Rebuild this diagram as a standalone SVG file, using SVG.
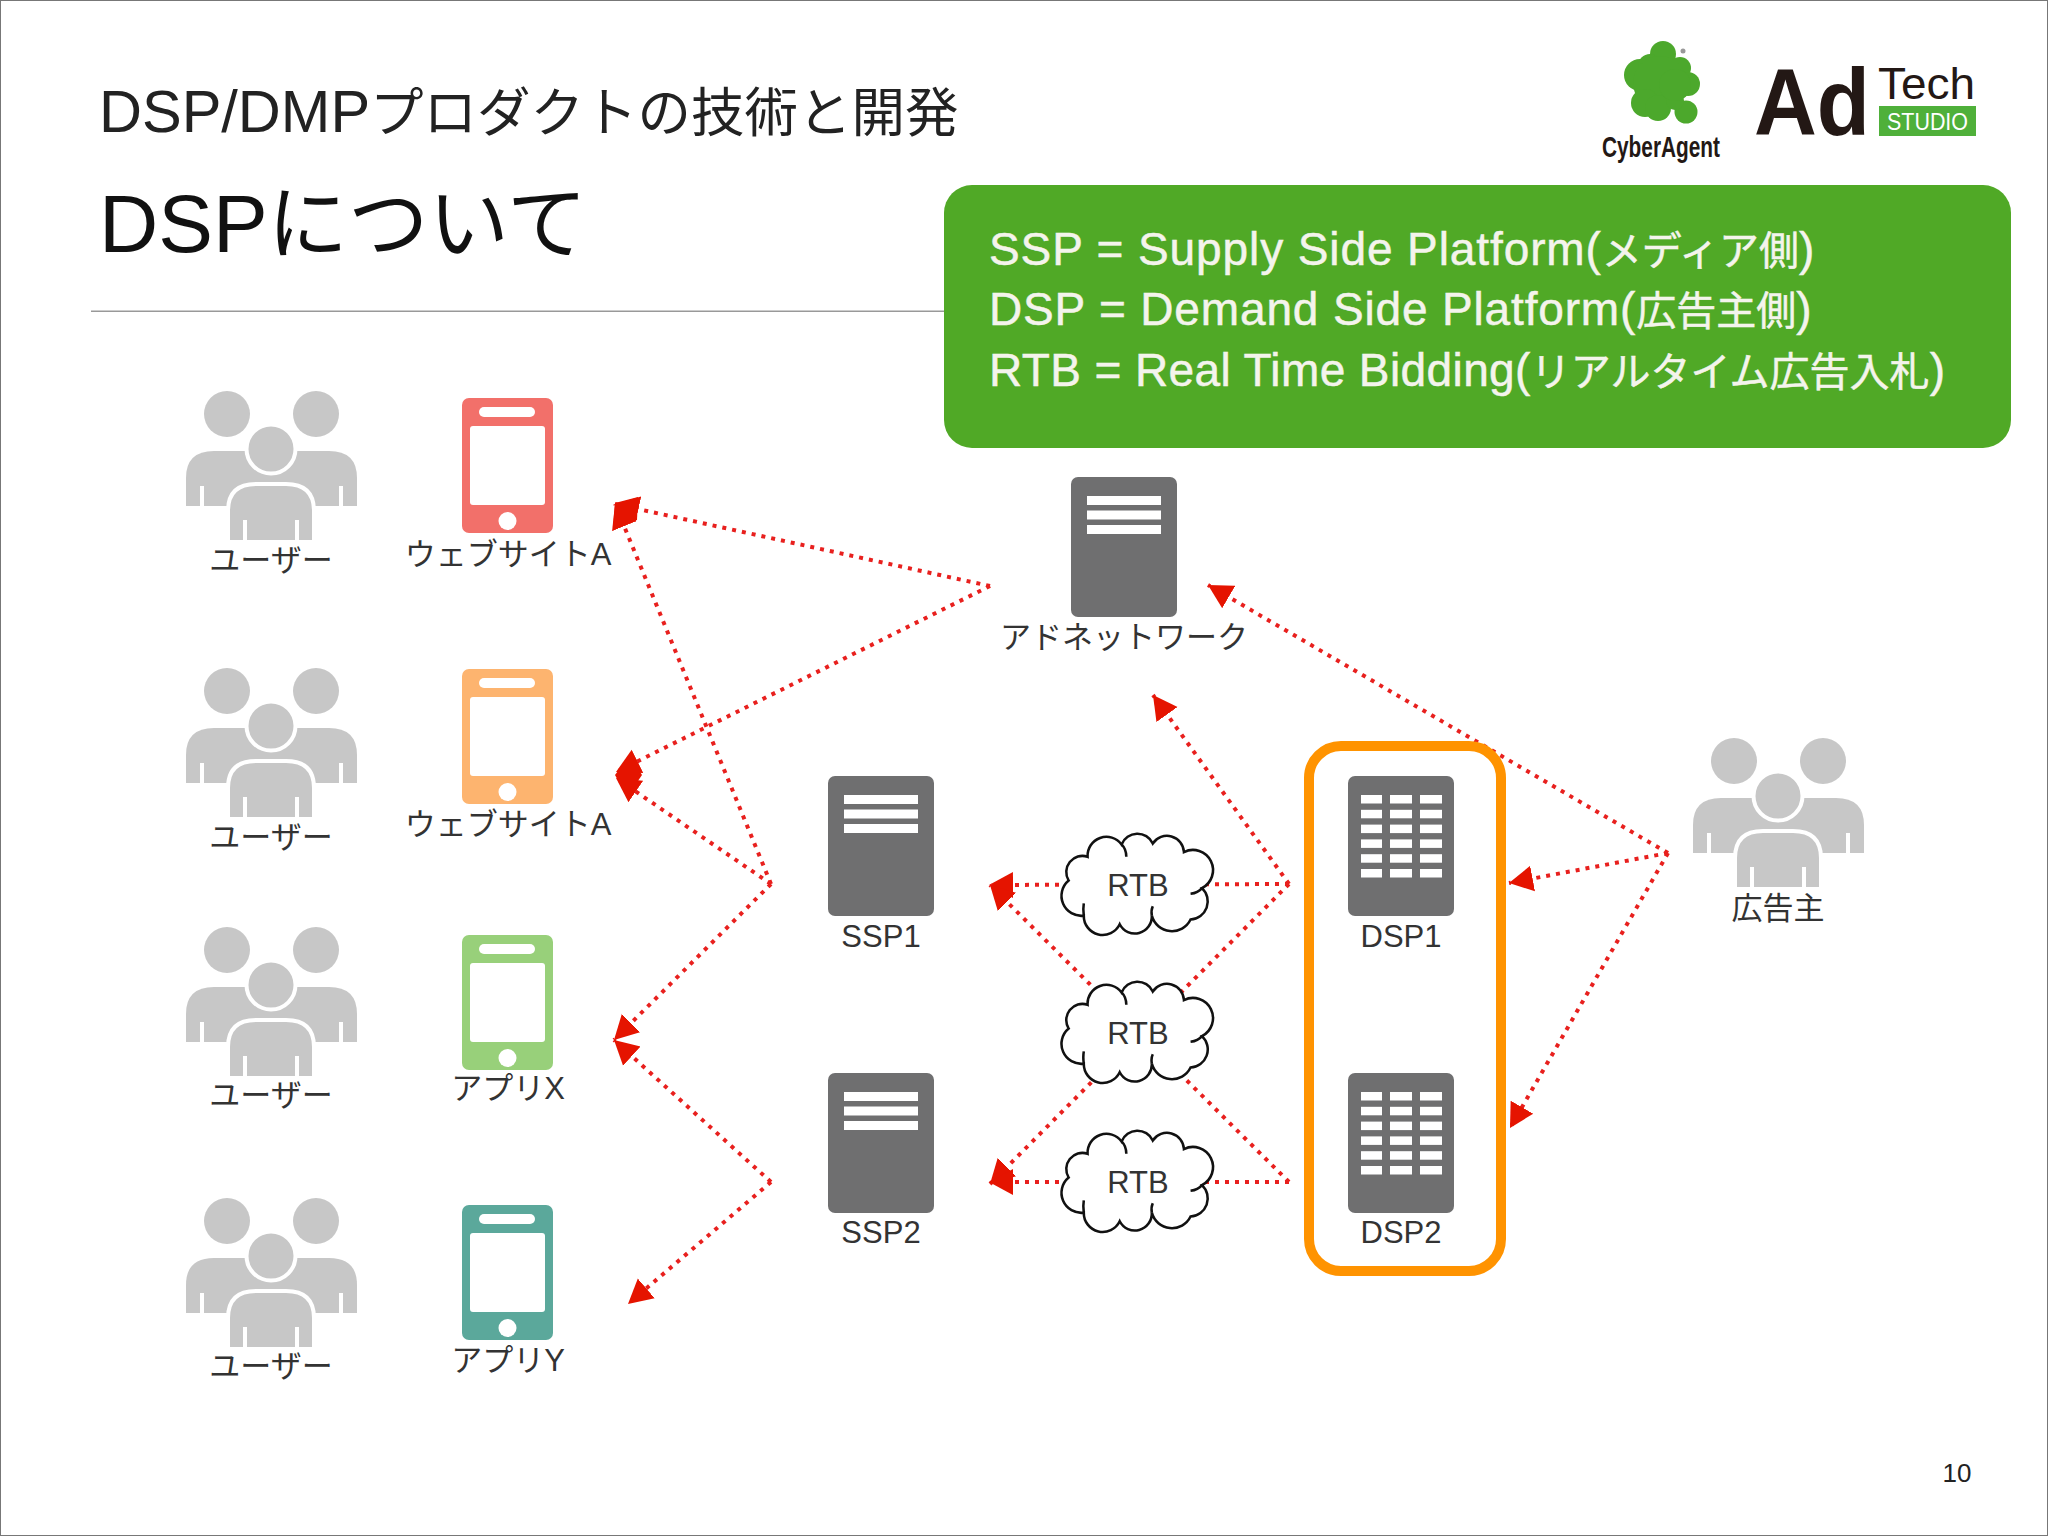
<svg xmlns="http://www.w3.org/2000/svg" width="2048" height="1536" viewBox="0 0 2048 1536">
<style>
text{font-family:"Liberation Sans","Noto Sans CJK JP",sans-serif;}
.lbl{font-size:31px;fill:#333;text-anchor:middle;}
.srv{fill:#6f6f70;}
.bar{fill:#fff;}
.u{fill:#c7c7c7;}
.ln{stroke:#e8201e;stroke-width:4;stroke-dasharray:4 6;fill:none;marker-end:url(#ah);}
.merged{fill:#e51400;}
.info{font-size:46px;fill:#f4f4ec;stroke:#f4f4ec;stroke-width:.5;}
.cj{font-size:40px;letter-spacing:0;}
</style>
<defs>
<marker id="ah" markerUnits="userSpaceOnUse" markerWidth="24" markerHeight="28" viewBox="0 0 24 28" refX="24" refY="14" orient="auto"><path d="M0 1L24 14L0 27Z" fill="#e51400"/></marker>
<g id="users">
<path class="u" d="M186 506V478Q186 451 214 451H329Q357 451 357 478V506Z"/>
<rect x="200" y="486" width="4" height="20" fill="#fff"/><rect x="339" y="486" width="4" height="20" fill="#fff"/>
<circle class="u" cx="227" cy="414" r="23"/><circle class="u" cx="316" cy="414" r="23"/>
<circle class="u" cx="271" cy="449" r="24.500" stroke="#fff" stroke-width="4"/>
<path class="u" stroke="#fff" stroke-width="4" d="M228 542V511Q228 484 256 484H286Q314 484 314 511V542Z"/>
<rect x="243" y="520" width="4" height="22" fill="#fff"/><rect x="295" y="520" width="4" height="22" fill="#fff"/>
</g>
<g id="server"><rect class="srv" width="106" height="140" rx="7"/></g>
<g id="bars3"><rect class="bar" x="16" y="19" width="74" height="9"/><rect class="bar" x="16" y="33.500" width="74" height="9"/><rect class="bar" x="16" y="48" width="74" height="9"/></g>
<g id="bars18">
<g id="brow"><rect class="bar" x="13" y="19" width="21" height="8.500"/><rect class="bar" x="42" y="19" width="22" height="8.500"/><rect class="bar" x="72" y="19" width="22" height="8.500"/></g>
<use href="#brow" y="14.800"/><use href="#brow" y="29.600"/><use href="#brow" y="44.400"/><use href="#brow" y="59.200"/><use href="#brow" y="74"/>
</g>
<g id="phone">
<rect width="91" height="135" rx="7" fill="currentColor"/>
<rect x="8" y="28" width="75" height="79" rx="3" fill="#fff"/>
<rect x="17" y="9" width="56" height="10" rx="5" fill="#fff"/>
<circle cx="45.500" cy="123" r="9" fill="#fff"/>
</g>
<g id="cloud">
<path fill="#fff" stroke="#111" stroke-width="2.700" d="M6 49A17 17 0 0 1 26 24A20 20 0 0 1 62 11A18 18 0 0 1 95 10A18 18 0 0 1 128 19A21 21 0 0 1 147 57A19 19 0 0 1 135 90A22 22 0 0 1 94 86A18 18 0 0 1 60 95A20 20 0 0 1 22 86A21 21 0 0 1 6 49Z"/>
<path fill="none" stroke="#111" stroke-width="2.700" d="M62 11Q67 16 67 24M147 57Q143 62 135 63M94 86Q93 80 95 76M22 86Q21 79 22 73"/>
</g>
</defs>
<rect x="0.500" y="0.500" width="2047" height="1535" fill="#fff" stroke="#777" stroke-width="1"/>
<g id="title">
<text x="99" y="132" font-size="53.500" fill="#222"><tspan font-size="59.500">DSP/DMP</tspan>プロダクトの技術と開発</text>
<text x="99" y="252" font-size="80.500" fill="#111"><tspan font-size="82">DSP</tspan>について</text>
<rect x="91" y="310.500" width="853" height="1.500" fill="#999"/>
</g>
<g id="logos">
<g fill="#4ca82c"><circle cx="1663" cy="54" r="13"/><circle cx="1680" cy="68" r="11"/><circle cx="1688" cy="84" r="12"/><circle cx="1640" cy="75" r="16"/><circle cx="1650" cy="66" r="12"/><circle cx="1660" cy="83" r="27"/><circle cx="1645" cy="103" r="14"/><circle cx="1658" cy="108" r="13"/><circle cx="1686" cy="112" r="11.500"/><circle cx="1675" cy="101" r="9"/><circle cx="1675" cy="85" r="16"/></g>
<circle cx="1683" cy="51" r="2.500" fill="#999"/>
<text x="1602" y="157" font-size="30" font-weight="700" fill="#231815" textLength="118" lengthAdjust="spacingAndGlyphs">CyberAgent</text>
<text x="1754" y="135" font-size="95" font-weight="700" fill="#231815" textLength="116" lengthAdjust="spacingAndGlyphs">Ad</text>
<text x="1878" y="99" font-size="44" fill="#231815" textLength="97" lengthAdjust="spacingAndGlyphs">Tech</text>
<rect x="1879" y="106" width="97" height="30" fill="#4fb03a"/>
<text x="1887" y="130" font-size="24" fill="#fff" textLength="81" lengthAdjust="spacingAndGlyphs">STUDIO</text>
</g>
<g id="connectors">
<line class="ln" x1="990" y1="586" x2="615" y2="504"/>
<line class="ln" x1="771" y1="884" x2="615" y2="504"/>
<polygon class="merged" points="615,503 638,497 637,520 613,528"/>
<line class="ln" x1="990" y1="586" x2="616" y2="772"/>
<line class="ln" x1="771" y1="884" x2="616" y2="778"/>
<polygon class="merged" points="615,775 630,755 642,775 627,797"/>
<line class="ln" x1="771" y1="884" x2="614" y2="1040"/>
<line class="ln" x1="771" y1="1182" x2="614" y2="1040"/>
<line class="ln" x1="771" y1="1182" x2="628" y2="1304"/>
<line class="ln" x1="1289" y1="884" x2="1153" y2="695"/>
<line class="ln" x1="1289" y1="884" x2="989" y2="885"/>
<line class="ln" x1="1289" y1="884" x2="990" y2="1184"/>
<line class="ln" x1="1289" y1="1182" x2="989" y2="1182"/>
<line class="ln" x1="1289" y1="1182" x2="990" y2="885"/>
<line class="ln" x1="1668" y1="853" x2="1208" y2="585"/>
<line class="ln" x1="1668" y1="853" x2="1509" y2="883"/>
<line class="ln" x1="1668" y1="853" x2="1510" y2="1128"/>
</g>
<g id="user1"><use href="#users"/><text class="lbl" x="271" y="571">ユーザー</text></g>
<g id="site-a1"><use href="#phone" x="462" y="398" color="#f2706a"/><text class="lbl" x="508" y="565">ウェブサイトA</text></g>
<g id="user2"><use href="#users" y="277"/><text class="lbl" x="271" y="848">ユーザー</text></g>
<g id="site-a2"><use href="#phone" x="462" y="669" color="#fdb46f"/><text class="lbl" x="508" y="835">ウェブサイトA</text></g>
<g id="user3"><use href="#users" y="536"/><text class="lbl" x="271" y="1106">ユーザー</text></g>
<g id="app-x"><use href="#phone" x="462" y="935" color="#98d07a"/><text class="lbl" x="508" y="1099">アプリX</text></g>
<g id="user4"><use href="#users" y="807"/><text class="lbl" x="271" y="1377">ユーザー</text></g>
<g id="app-y"><use href="#phone" x="462" y="1205" color="#5ba89b"/><text class="lbl" x="508" y="1371">アプリY</text></g>
<g id="adnetwork"><use href="#server" x="1071" y="477"/><use href="#bars3" x="1071" y="477"/><text class="lbl" x="1124" y="648">アドネットワーク</text></g>
<g id="ssp1"><use href="#server" x="828" y="776"/><use href="#bars3" x="828" y="776"/><text class="lbl" x="881" y="947">SSP1</text></g>
<g id="ssp2"><use href="#server" x="828" y="1073"/><use href="#bars3" x="828" y="1073"/><text class="lbl" x="881" y="1243">SSP2</text></g>
<g id="rtb1"><use href="#cloud" transform="translate(1063 834) scale(.945 .95)"/><text class="lbl" x="1138" y="896">RTB</text></g>
<g id="rtb2"><use href="#cloud" transform="translate(1063 982) scale(.945 .95)"/><text class="lbl" x="1138" y="1044">RTB</text></g>
<g id="rtb3"><use href="#cloud" transform="translate(1063 1131) scale(.945 .95)"/><text class="lbl" x="1138" y="1193">RTB</text></g>
<g id="dsp1"><use href="#server" x="1348" y="776"/><use href="#bars18" x="1348" y="776"/><text class="lbl" x="1401" y="947">DSP1</text></g>
<g id="dsp2"><use href="#server" x="1348" y="1073"/><use href="#bars18" x="1348" y="1073"/><text class="lbl" x="1401" y="1243">DSP2</text></g>
<g id="dsp-frame"><rect x="1309" y="746" width="192" height="525" rx="32" fill="none" stroke="#ff9300" stroke-width="10"/></g>
<g id="advertiser"><use href="#users" x="1507" y="347"/><text class="lbl" x="1778" y="919">広告主</text></g>
<g id="legend">
<rect x="944" y="185" width="1067" height="263" rx="28" fill="#50a926"/>
<text class="info" x="989" y="265" letter-spacing=".9">SSP = Supply Side Platform(<tspan class="cj">メディア側</tspan>)</text>
<text class="info" x="989" y="325" letter-spacing=".85">DSP = Demand Side Platform(<tspan class="cj">広告主側</tspan>)</text>
<text class="info" x="989" y="386" letter-spacing=".4">RTB = Real Time Bidding(<tspan class="cj">リアルタイム広告入札</tspan>)</text>
</g>
<text id="page" x="1957" y="1482" font-size="26" fill="#222" text-anchor="middle">10</text>
</svg>
